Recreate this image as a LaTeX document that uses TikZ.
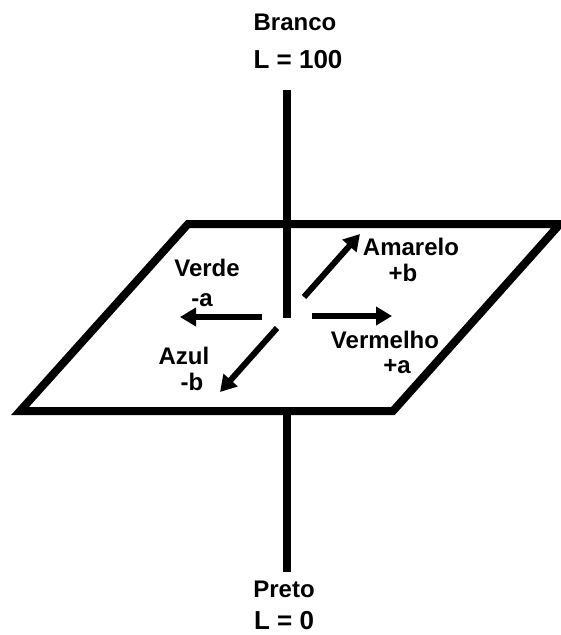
\documentclass[tikz,border=0pt]{standalone}
\usepackage{fontspec}
\setmainfont{Liberation Sans}
\usetikzlibrary{arrows.meta,positioning}

\begin{document}
\begin{tikzpicture}[x=1pt, y=-1pt,
  edge/.style={line width=8pt, line join=miter},
  vec/.style={line width=6pt, -{Triangle[length=16pt,width=18pt]}},
  lbl/.style={font=\fontsize{24}{24}\selectfont\bfseries, inner sep=0pt},
  val/.style={font=\fontsize{26}{26}\selectfont\bfseries, inner sep=0pt}
]
  \useasboundingbox (0,0) rectangle (560,635);

  % eixo L
  \node[lbl] (branco) at (295,22) {Branco};
  \node[val] (l100) at (298,60) {L = 100};
  \node[lbl] (preto) at (284,589) {Preto};
  \node[val] (l0) at (284,621) {L = 0};
  \coordinate (topo) at (287,90);
  \coordinate (centro) at (287,318);
  \coordinate (baixo) at (287,411);
  \coordinate (fim) at (287,572);

  % plano a*b*
  \coordinate (p1) at (188,224);
  \coordinate (p2) at (560,224);
  \coordinate (p3) at (393,411);
  \coordinate (p4) at (20,411);
  \draw[edge] (p1) -- (p2) -- (p3) -- (p4) -- cycle;
  \draw[edge] (topo) -- (centro);
  \draw[edge] (baixo) -- (fim);

  % eixos de cor
  \coordinate (ini-v) at (262,317);
  \coordinate (fim-v) at (180,317);
  \coordinate (ini-r) at (312,316);
  \coordinate (fim-r) at (392,316);
  \coordinate (ini-am) at (304,297);
  \coordinate (fim-am) at (360,234);
  \coordinate (ini-az) at (277,328);
  \coordinate (fim-az) at (220,392);
  \draw[vec] (ini-v) -- (fim-v);
  \draw[vec] (ini-r) -- (fim-r);
  \draw[vec] (ini-am) -- (fim-am);
  \draw[vec] (ini-az) -- (fim-az);

  \node[lbl] (verde) at (207,268) {Verde};
  \node[lbl] (mena) at (202,300) {-a};
  \node[lbl] (amarelo) at (411,247) {Amarelo};
  \node[lbl] (maisb) at (403,273) {+b};
  \node[lbl] (vermelho) at (385,340) {Vermelho};
  \node[lbl] (maisa) at (397,367) {+a};
  \node[lbl] (azul) at (184,356) {Azul};
  \node[lbl] (menb) at (192,382) {-b};
\end{tikzpicture}
\end{document}
